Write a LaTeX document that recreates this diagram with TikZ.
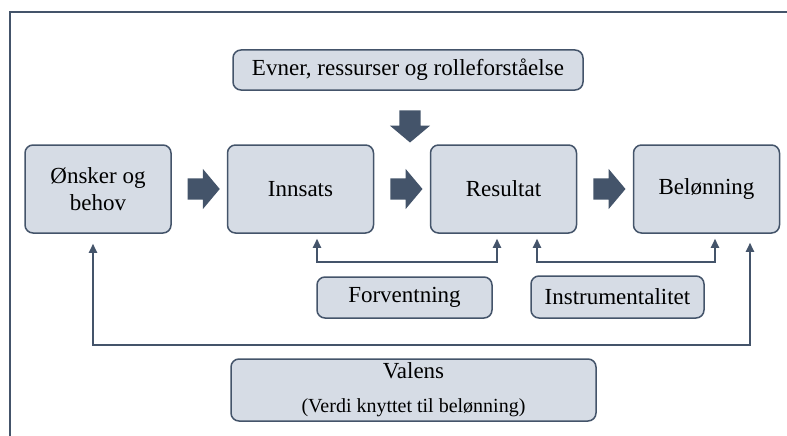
\documentclass[tikz,border=0pt]{standalone}
\usepackage{fontspec}
\setmainfont{Liberation Serif}
\usetikzlibrary{shapes.arrows,arrows.meta,calc}

\definecolor{slate}{HTML}{44546A}
\definecolor{boxfill}{HTML}{D6DCE5}

\tikzset{
  box/.style={draw=slate, fill=boxfill, line width=1.5pt, rounded corners=8pt,
    align=center, inner sep=0pt, font=\fontsize{23}{27}\selectfont},
  blockarrow/.style={single arrow, fill=slate, draw=none, inner xsep=0pt,
    inner ysep=10.5pt, minimum height=32pt, single arrow head extend=9.5pt,
    single arrow tip angle=100},
  link/.style={draw=slate, line width=1.8pt,
    {Triangle[width=8pt,length=9pt]}-{Triangle[width=8pt,length=9pt]}}
}

\begin{document}
\begin{tikzpicture}[x=1pt, y=-1pt]
  \useasboundingbox (0,0) rectangle (787,436);
  % frame
  \draw[slate, line width=1.5pt] (10,436) -- (10,12) -- (787,12);

  % main chain
  \node[box, minimum width=146pt, minimum height=88pt] (onsker) at (98,189) {Ønsker og\\behov};
  \node[box, minimum width=146pt, minimum height=88pt] (innsats) at (300.5,189) {Innsats};
  \node[box, minimum width=146pt, minimum height=88pt] (resultat) at (503.5,189) {Resultat};
  \node[box, minimum width=146pt, minimum height=88pt] (belonning) at (706.5,189) {Belønning};

  % top box
  \node[box, minimum width=350pt, minimum height=40pt] (evner) at (408,70) {Evner, ressurser og rolleforståelse};

  % lower boxes
  \node[box, minimum width=175pt, minimum height=41pt] (forventning) at (404.5,297.5) {Forventning};
  \node[box, minimum width=173pt, minimum height=42pt] (instrument) at (617.5,297) {Instrumentalitet};
  \node[box, minimum width=365pt, minimum height=62pt] (valens) at (413.5,390)
    {Valens\\[7pt]{\fontsize{20}{22}\selectfont(Verdi knyttet til belønning)}};

  % block arrows
  \node[blockarrow] (a1) at ($(onsker.east)!0.5!(innsats.west)$) {};
  \node[blockarrow] (a2) at ($(innsats.east)!0.5!(resultat.west)$) {};
  \node[blockarrow] (a3) at ($(resultat.east)!0.5!(belonning.west)$) {};
  \node[blockarrow, rotate=-90] (a4) at (410,122) {};

  % brackets
  \draw[link] ([shift={(16.5pt,-5pt)}]innsats.south) -- ++(0,23) -| ([shift={(-6.5pt,-5pt)}]resultat.south);
  \draw[link] ([shift={(33.5pt,-5pt)}]resultat.south) -- ++(0,23) -| ([shift={(8.5pt,-5pt)}]belonning.south);
  \draw[link] ([shift={(-5pt,-10pt)}]onsker.south) -- ++(0,101) -| ([shift={(43.5pt,-9pt)}]belonning.south);
\end{tikzpicture}
\end{document}
